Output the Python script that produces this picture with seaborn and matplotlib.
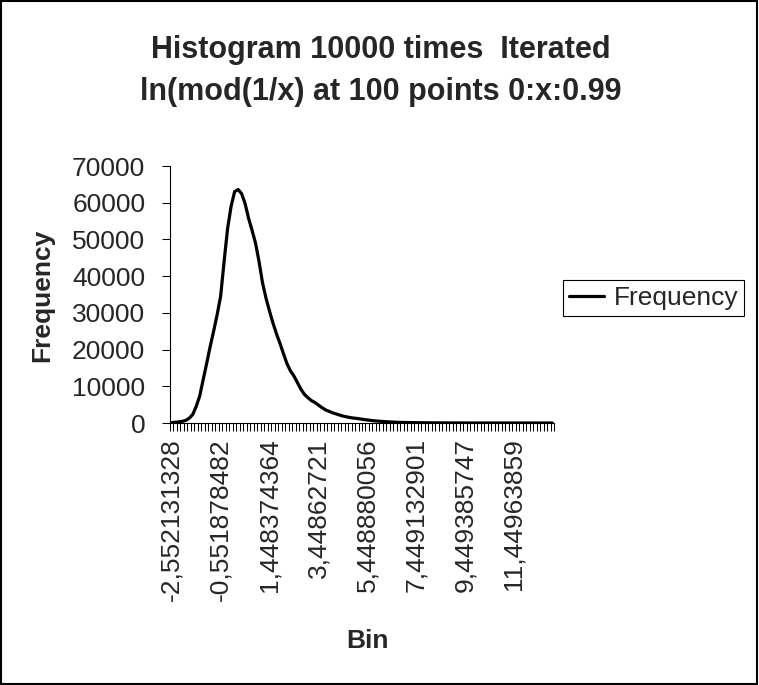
import numpy as np
import pandas as pd
import matplotlib
matplotlib.use("Agg")
import matplotlib.pyplot as plt
import seaborn as sns
from matplotlib.patches import Rectangle
from matplotlib.lines import Line2D

# ---- data ----
frequency = [
    100, 200, 300, 450, 700, 1300, 2300, 4500, 7300, 11800,
    16200, 20800, 25000, 29500, 34500, 44000, 53000, 59000, 63000, 63600,
    62500, 59800, 55800, 52500, 49000, 44000, 38200, 34000, 30500, 27200,
    24300, 21700, 18900, 16200, 14200, 12800, 11000, 9200, 7800, 6900,
    6100, 5600, 4900, 4200, 3600, 3200, 2800, 2500, 2200, 1900,
    1700, 1500, 1350, 1250, 1100, 950, 830, 700, 600, 520,
    450, 380, 320, 270, 220, 180, 160, 140, 120, 105,
    90, 80, 70, 60, 52, 45, 40, 35, 30, 26,
    22, 19, 16, 14, 12, 10, 9, 8, 7, 6,
    5, 5, 4, 4, 3, 3, 2, 2, 2, 1,
    1, 1, 1, 1, 0, 0, 0, 0, 0, 0,
]
bin_index = list(range(len(frequency)))
tick_labels = ['-2,552131328', '-0,551878482', '1,448374364', '3,44862721',
               '5,448880056', '7,449132901', '9,449385747', '11,44963859']
label_every = 14
y_ticks = [0, 10000, 20000, 30000, 40000, 50000, 60000, 70000]

title_line1 = "Histogram 10000 times  Iterated"
title_line2 = "ln(mod(1/x) at 100 points 0:x:0.99"

df = pd.DataFrame({"Bin": bin_index, "Frequency": frequency})

sns.set_theme(style="white")
plt.rcParams["font.family"] = ["Liberation Sans", "DejaVu Sans"]

W, H = 759, 685
fig = plt.figure(figsize=(W / 100, H / 100), dpi=100)
fig.patch.set_facecolor("white")

ax = fig.add_axes([170 / W, 1 - 423 / H, (554 - 170) / W, (423 - 166) / H])
sns.lineplot(data=df, x="Bin", y="Frequency", color="black", linewidth=2.3,
             ax=ax, legend=False)

n = len(frequency)
ax.set_xlim(-0.5, n - 0.5)
ax.set_ylim(0, 70000)

for s in ["top", "right"]:
    ax.spines[s].set_visible(False)
for s in ["left", "bottom"]:
    ax.spines[s].set_color("black")
    ax.spines[s].set_linewidth(0.8)

ax.set_yticks(y_ticks)
ax.set_yticklabels([str(v) for v in y_ticks])
ax.tick_params(axis="y", direction="out", length=5.8, width=0.75, color="black",
               labelsize=19, pad=12, left=True)

ax.set_xticks(bin_index[::label_every][:len(tick_labels)])
ax.set_xticklabels(tick_labels, rotation=90, va="top", ha="center")
ax.set_xticks(np.arange(-0.5, n, 1.0), minor=True)
ax.tick_params(axis="x", which="major", length=0, labelsize=19, pad=11)
ax.tick_params(axis="x", which="minor", direction="out", length=5.8, width=0.75,
               color="black", bottom=True)
ax.set_xlabel("")
ax.set_ylabel("")
ax.grid(False)

fig.text(42 / W, 1 - 295 / H, "Frequency", rotation=90, ha="center", va="center",
         fontsize=19, fontweight="bold")
fig.text(367 / W, 1 - 648 / H, "Bin", ha="center", va="baseline",
         fontsize=19, fontweight="bold")
fig.text(381 / W, 1 - 58 / H, title_line1, ha="center", va="baseline",
         fontsize=22, fontweight="bold")
fig.text(381 / W, 1 - 100 / H, title_line2, ha="center", va="baseline",
         fontsize=22, fontweight="bold")

handle = Line2D([0], [0], color="black", linewidth=2.3)
leg = fig.legend([handle], ["Frequency"], loc="upper left",
                 bbox_to_anchor=(563 / W, 1 - 280 / H), bbox_transform=fig.transFigure,
                 borderaxespad=0, borderpad=0.22, handlelength=1.35, handletextpad=0.35,
                 fancybox=False, framealpha=1, edgecolor="black", fontsize=19)
leg.get_frame().set_linewidth(0.8)

fig.add_artist(Rectangle((0.001, 0.001), 0.997, 0.997, transform=fig.transFigure,
                         fill=False, edgecolor="black", linewidth=1.5))

fig.savefig("out.png", dpi=100, facecolor="white")
